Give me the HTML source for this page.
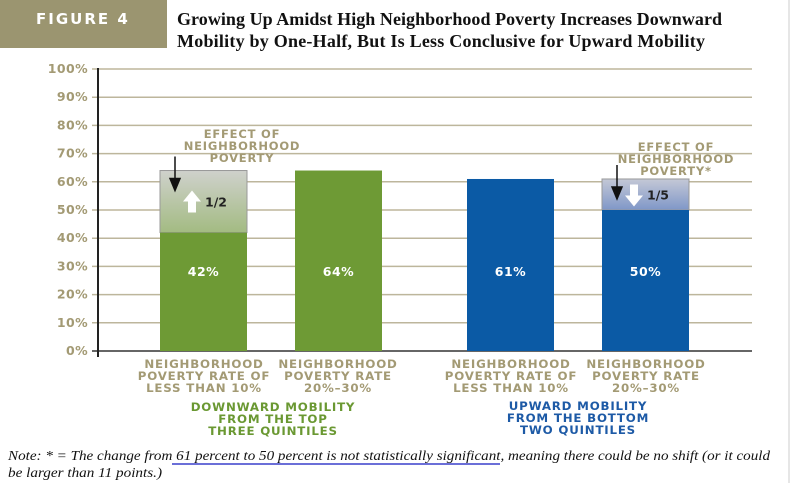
<!DOCTYPE html>
<html><head><meta charset="utf-8"><style>
body{margin:0;width:791px;height:483px;overflow:hidden;background:#fff}
svg{display:block}
.ax{font-family:"DejaVu Sans","Liberation Sans",sans-serif;font-weight:bold;fill:#a39a74;font-size:12.5px;letter-spacing:0.4px}
.cat{font-family:"DejaVu Sans","Liberation Sans",sans-serif;font-weight:bold;fill:#a39a74;font-size:11.8px;letter-spacing:0.8px}
</style></head><body>
<svg id="chart" width="791" height="483" xmlns="http://www.w3.org/2000/svg">
<rect x="0" y="0" width="167" height="48" fill="#9b9570"/>
<text x="36" y="24" font-family="DejaVu Sans,Liberation Sans,sans-serif" font-weight="bold" font-size="15" fill="#fff" letter-spacing="2">FIGURE 4</text>
<text font-family="Liberation Serif,serif" font-weight="bold" font-size="18" fill="#111"><tspan x="177" y="25" textLength="545">Growing Up Amidst High Neighborhood Poverty Increases Downward</tspan><tspan x="177" y="47" textLength="528">Mobility by One-Half, But Is Less Conclusive for Upward Mobility</tspan></text>
<g id="grid"></g><g id="bars"></g>
<line x1="98" y1="68" x2="98" y2="357" stroke="#222" stroke-width="2"/>
<text class="ax" text-anchor="middle" style="font-size:11.5px;letter-spacing:0.8px"><tspan x="242" y="138">EFFECT OF</tspan><tspan x="242" y="150">NEIGHBORHOOD</tspan><tspan x="242" y="162">POVERTY</tspan></text>
<text class="ax" text-anchor="middle" style="font-size:11.5px;letter-spacing:0.8px"><tspan x="676" y="151">EFFECT OF</tspan><tspan x="676" y="163">NEIGHBORHOOD</tspan><tspan x="676" y="175">POVERTY*</tspan></text>
<text class="cat" text-anchor="middle"><tspan x="204" y="368">NEIGHBORHOOD</tspan><tspan x="204" y="380">POVERTY RATE OF</tspan><tspan x="204" y="392">LESS THAN 10%</tspan></text>
<text class="cat" text-anchor="middle"><tspan x="338" y="368">NEIGHBORHOOD</tspan><tspan x="338" y="380">POVERTY RATE</tspan><tspan x="338" y="392">20%–30%</tspan></text>
<text class="cat" text-anchor="middle"><tspan x="511" y="368">NEIGHBORHOOD</tspan><tspan x="511" y="380">POVERTY RATE OF</tspan><tspan x="511" y="392">LESS THAN 10%</tspan></text>
<text class="cat" text-anchor="middle"><tspan x="646" y="368">NEIGHBORHOOD</tspan><tspan x="646" y="380">POVERTY RATE</tspan><tspan x="646" y="392">20%–30%</tspan></text>
<text class="cat" style="fill:#6a9832" text-anchor="middle"><tspan x="273" y="411">DOWNWARD MOBILITY</tspan><tspan x="273" y="423">FROM THE TOP</tspan><tspan x="273" y="435">THREE QUINTILES</tspan></text>
<text class="cat" style="fill:#1d5aa6" text-anchor="middle"><tspan x="578" y="410">UPWARD MOBILITY</tspan><tspan x="578" y="422">FROM THE BOTTOM</tspan><tspan x="578" y="434">TWO QUINTILES</tspan></text>
<line x1="172" y1="464" x2="500" y2="464" stroke="#6b6fd8" stroke-width="2"/>
<text font-family="Liberation Serif,serif" font-style="italic" font-size="14" fill="#111"><tspan x="8" y="460" textLength="762" lengthAdjust="spacingAndGlyphs">Note: * = The change from 61 percent to 50 percent is not statistically significant, meaning there could be no shift (or it could</tspan><tspan x="8" y="477" textLength="154" lengthAdjust="spacingAndGlyphs">be larger than 11 points.)</tspan></text>
<line x1="789" y1="0" x2="789" y2="483" stroke="#ccc" stroke-width="1"/>
</svg>
<script>
const categories=["Downward <10%","Downward 20-30%","Upward <10%","Upward 20-30%"];
const values=[42,64,61,50];
const ghostTops=[64,null,null,61];
const valueLabels=["42%","64%","61%","50%"];
const effectLabels=["1/2",null,null,"1/5"];
const yTicks=[0,10,20,30,40,50,60,70,80,90,100];
const NS="http://www.w3.org/2000/svg";
const y0=351,y100=69;
function ys(v){return y0-(y0-y100)*v/100;}
const barX=[160,295,467,602],bw=87;
function xs(i){return barX[i];}
const colors=["#6e9a35","#6e9a35","#0b5aa5","#0b5aa5"];
function mk(t,a,p){const e=document.createElementNS(NS,t);for(const k in a)e.setAttribute(k,a[k]);(p||document.getElementById('chart')).appendChild(e);return e;}
const grid=document.getElementById('grid'),bars=document.getElementById('bars');
const defs=mk('defs',{});
defs.innerHTML='<linearGradient id="gg" x1="0" y1="0" x2="0" y2="1"><stop offset="0" stop-color="#cfd1cc"/><stop offset="1" stop-color="#a3bb82"/></linearGradient><linearGradient id="bg" x1="0" y1="0" x2="0" y2="1"><stop offset="0" stop-color="#c4c8d6"/><stop offset="1" stop-color="#7f97c8"/></linearGradient>';
yTicks.forEach(t=>{
 const l=mk('line',{x1:92,x2:752,y1:ys(t),y2:ys(t),stroke:t===0?'#333':'#bdb69c','stroke-width':1.5},grid);
 
 
 const tx=mk('text',{x:88,y:ys(t)+4,'text-anchor':'end',class:'ax'},grid);
 
 
 tx.textContent=t+'%';
});
values.forEach((v,i)=>{
 const x=xs(i);
 if(ghostTops[i]!=null){
  const g=mk('rect',{x:x,y:ys(ghostTops[i]),width:bw,height:ys(v)-ys(ghostTops[i]),fill:i<2?'url(#gg)':'url(#bg)',stroke:'#999','stroke-width':1},bars);
  
  
  const top=ys(ghostTops[i]),bot=ys(v),mid=(top+bot)/2;
  const ar=mk('path',{d:`M${x+15} ${top-14}V${top+18}M${x+10} ${top+8}L${x+15} ${top+20}L${x+20} ${top+8}Z`,stroke:'#111','stroke-width':1.5,fill:'#111'},bars);
  
  
  const cx=x+32;
  const d=i<2?`M${cx-9} ${mid}L${cx} ${mid-11}L${cx+9} ${mid}H${cx+4}V${mid+11}H${cx-4}V${mid}Z`:`M${cx-9} ${mid+1}L${cx} ${mid+12}L${cx+9} ${mid+1}H${cx+4}V${mid-10}H${cx-4}V${mid+1}Z`;
  const wa=mk('path',{d:d,fill:'#fff'},bars);
  
  
  const et=mk('text',{x:x+45,y:mid+5,'font-family':'DejaVu Sans,Liberation Sans,sans-serif','font-weight':'bold','font-size':12.5,fill:'#222'},bars);
  
  
  et.textContent=effectLabels[i];
 }
 const r=mk('rect',{x:x,y:ys(v),width:bw,height:y0-ys(v),fill:colors[i]},bars);
 
 
 const vt=mk('text',{x:x+bw/2,y:ys(28)+4,'text-anchor':'middle','font-family':'DejaVu Sans,Liberation Sans,sans-serif','font-weight':'bold','font-size':12.5,fill:'#fff','letter-spacing':0.5},bars);
 
 
 vt.textContent=valueLabels[i];
});
</script>
</body></html>
